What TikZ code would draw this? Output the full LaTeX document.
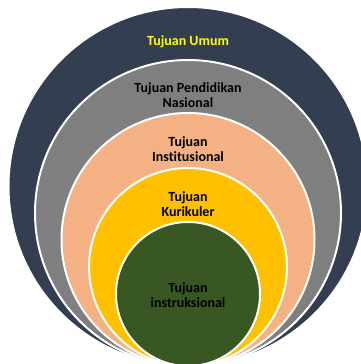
\documentclass[tikz,border=0pt]{standalone}
\usepackage{fontspec}
\setmainfont[Ligatures=NoCommon]{Carlito}
\definecolor{navy}{HTML}{333F50}
\definecolor{grayring}{HTML}{7F7F7F}
\definecolor{peach}{HTML}{F4B183}
\definecolor{gold}{HTML}{FFC000}
\definecolor{leaf}{HTML}{385723}
\definecolor{yelt}{HTML}{FFFF00}
\begin{document}
\begin{tikzpicture}[x=1pt,y=-1pt,
  ring/.style={circle,inner sep=0pt,draw=white,line width=2pt},
  lbl/.style={font=\fontsize{14}{15}\selectfont\bfseries,align=center,inner sep=0pt,text=black}]
\useasboundingbox (0,0) rectangle (361,364);
% nested goal circles, all touching at the bottom
\node[ring,fill=navy,minimum size=359pt] (umum) at (188,186.5) {};
\node[ring,fill=grayring,minimum size=306pt] (nasional) at (188,213) {};
\node[ring,fill=peach,minimum size=253pt] (institusi) at (188,239.5) {};
\node[ring,fill=gold,minimum size=198pt] (kurikuler) at (188,267) {};
\node[ring,fill=leaf,minimum size=144pt] (instruksi) at (188,294) {};
% labels
\node[lbl,text=yelt] (tUmum) at (188,42) {Tujuan Umum};
\node[lbl] (tNas) at (188,95.2) {Tujuan Pendidikan\\Nasional};
\node[lbl] (tInst) at (188,149.2) {Tujuan\\Institusional};
\node[lbl] (tKur) at (188,204.2) {Tujuan\\Kurikuler};
\node[lbl] (tIns) at (188,295) {Tujuan\\instruksional};
\end{tikzpicture}
\end{document}
